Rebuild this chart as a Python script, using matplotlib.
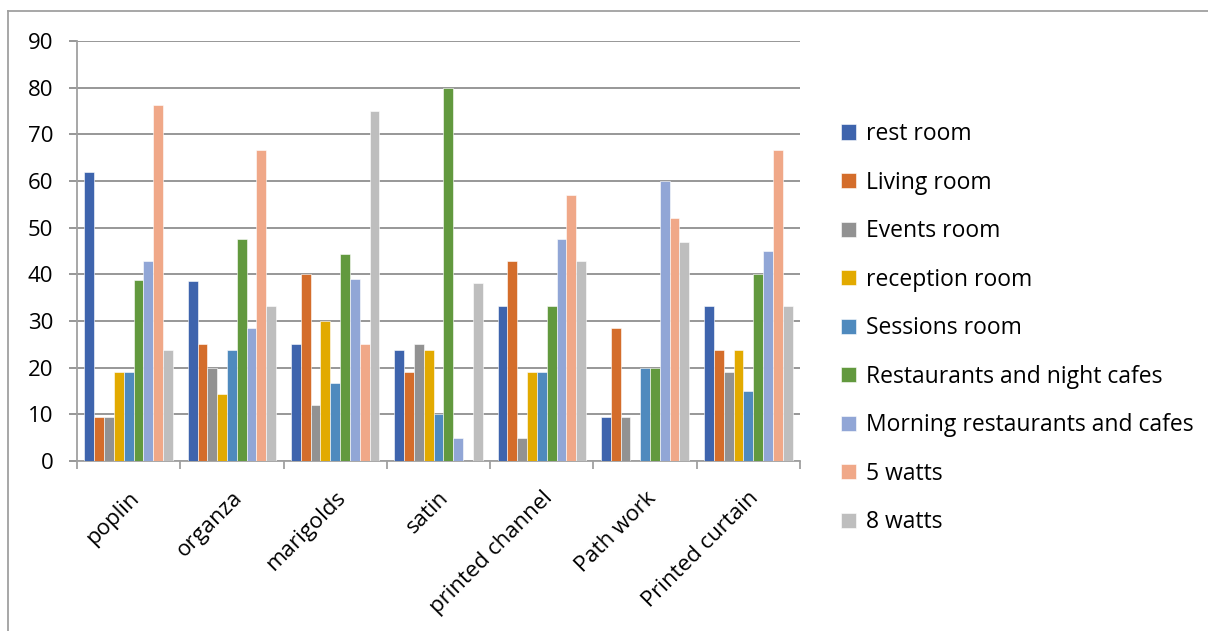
import matplotlib
matplotlib.use("Agg")
import matplotlib.pyplot as plt
import numpy as np
from matplotlib.lines import Line2D

plt.rcParams['font.family'] = ['Open Sans', 'DejaVu Sans']

# fabrics on the x axis
fabrics = ['poplin', 'organza', 'marigolds', 'satin', 'printed channel', 'Path work', 'Printed curtain']

series_names = ['rest room', 'Living room', 'Events room', 'reception room', 'Sessions room',
                'Restaurants and night cafes', 'Morning restaurants and cafes', '5 watts', '8 watts']

rest_room = [61.9, 38.6, 25, 23.8, 33.3, 9.5, 33.3]
living_room = [9.5, 25, 40, 19, 42.9, 28.6, 23.8]
events_room = [9.5, 20, 12, 25, 5, 9.5, 19]
reception_room = [19, 14.3, 30, 23.8, 19, 0, 23.8]
sessions_room = [19, 23.8, 16.7, 10, 19, 20, 15]
night_cafes = [38.8, 47.6, 44.4, 80, 33.3, 20, 40]
morning_cafes = [42.9, 28.6, 38.9, 5, 47.6, 60, 45]
watts_5 = [76.2, 66.7, 25, 0, 57.1, 52, 66.7]
watts_8 = [23.8, 33.3, 75, 38.1, 42.9, 47, 33.3]

all_series = [rest_room, living_room, events_room, reception_room, sessions_room,
              night_cafes, morning_cafes, watts_5, watts_8]
colors = ['#3E64AD', '#D46D2B', '#929292', '#E2AA00', '#4F8ABE',
          '#62993E', '#91A6D6', '#F0A888', '#BEBEBE']

fig = plt.figure(figsize=(12.08, 6.31), dpi=100)
ax = fig.add_axes([77/1208, 1-461/631, 723/1208, 420/631])

x = np.arange(len(fabrics))
w = 0.095
for i, (vals, c, name) in enumerate(zip(all_series, colors, series_names)):
    ax.bar(x + (i - 4) * w, vals, w, color=c, label=name, edgecolor='white', linewidth=0.4, zorder=3)

ax.set_xlim(-0.5, len(fabrics) - 0.5)
ax.set_ylim(0, 90)
ax.set_yticks(range(0, 91, 10))
ax.yaxis.grid(True, color='#8f8f8f', linewidth=1.3, zorder=0)
ax.set_axisbelow(True)

for s in ['top', 'right']:
    ax.spines[s].set_visible(False)
ax.spines['left'].set_color('#a0a0a0')
ax.spines['bottom'].set_color('#a0a0a0')
ax.spines['left'].set_linewidth(1.3)
ax.spines['bottom'].set_linewidth(1.3)

ax.tick_params(axis='y', length=6, color='#8f8f8f', width=1.3, labelsize=16, pad=11)
# category boundary ticks
ax.set_xticks(np.arange(-0.5, len(fabrics)), minor=False)
ax.set_xticklabels([])
ax.tick_params(axis='x', which='major', length=6, color='#a0a0a0', width=1.3)
ax.set_xticks(x, minor=True)
ax.set_xticklabels(fabrics, minor=True, rotation=45, ha='right', rotation_mode='anchor', fontsize=16)
ax.tick_params(axis='x', which='minor', length=0, pad=19)

fig.legend(loc='upper left', bbox_to_anchor=(832/1208, 1-113/631), frameon=False,
           fontsize=16.5, handlelength=0.65, handleheight=0.65, handletextpad=0.45,
           labelspacing=1.07, borderaxespad=0)

# chart outline (left and top edges)
fig.add_artist(Line2D([8/1208, 8/1208], [0, 1-11/631], color='#a0a0a0', lw=1.3))
fig.add_artist(Line2D([8/1208, 1], [1-11/631, 1-11/631], color='#a0a0a0', lw=1.3))

fig.savefig('out.png', dpi=100)
